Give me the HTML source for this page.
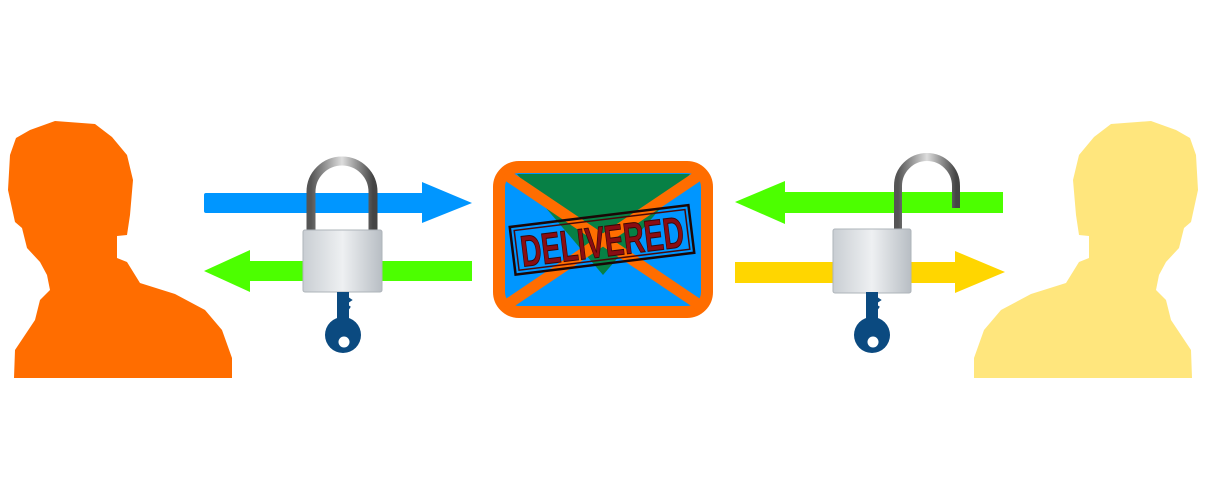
<!DOCTYPE html>
<html><head><style>html,body{margin:0;padding:0;background:#fff;width:1206px;height:500px;overflow:hidden}</style></head>
<body>
<svg width="1206" height="500" viewBox="0 0 1206 500" xmlns="http://www.w3.org/2000/svg">
<defs>
<linearGradient id="body" x1="0" y1="0" x2="1" y2="0">
<stop offset="0" stop-color="#c9ced3"/><stop offset="0.5" stop-color="#eef0f2"/><stop offset="1" stop-color="#b8bec4"/>
</linearGradient>
<linearGradient id="shk" x1="0" y1="0" x2="1" y2="0">
<stop offset="0" stop-color="#555"/><stop offset="0.5" stop-color="#ddd"/><stop offset="1" stop-color="#444"/>
</linearGradient>
<g id="person">
<path d="M30,130 L55,121 L95,124 L112,137 L127,155 L133,180 L130,215 L127,235 L117,236 L117,258 L127,262 L140,283 L175,294 L205,310 L222,330 L232,358 L232,378 L14,378 L15,350 L25,335 L35,320 L40,300 L50,290 L47,275 L40,262 L27,248 L22,228 L15,222 L8,190 L10,155 L16,138 Z"/>
</g>
<g id="key">
<rect x="-6" y="0" width="12" height="28" fill="#0b4a80"/>
<path d="M1,4 l6,4 l-6,4 l6,4" fill="none" stroke="#0b4a80" stroke-width="3"/>
<circle cx="0" cy="43" r="18" fill="#0b4a80"/>
<circle cx="1" cy="50" r="5.5" fill="#fff"/>
</g>
</defs>
<use href="#person" fill="#ff6d00"/>
<use href="#person" fill="#ffe67d" transform="translate(1206,0) scale(-1,1)"/>
<rect x="204" y="193" width="222" height="20" rx="2" fill="#0096ff"/>
<polygon points="422,182 472,203 422,223" fill="#0096ff"/>
<rect x="248" y="261" width="224" height="20" fill="#4cff00"/>
<polygon points="250,250 204,271 250,292" fill="#4cff00"/>
<rect x="782" y="192" width="221" height="21" fill="#4cff00"/>
<polygon points="785,181 735,202 785,224" fill="#4cff00"/>
<rect x="735" y="262" width="224" height="21" fill="#ffd600"/>
<polygon points="955,251 1005,272 955,293" fill="#ffd600"/>
<path d="M311,232 V192 A31,31 0 0 1 373,192 V232" fill="none" stroke="url(#shk)" stroke-width="9"/>
<rect x="303" y="230" width="79" height="62" rx="2" fill="url(#body)" stroke="#aeb4ba"/>
<use href="#key" transform="translate(343,292)"/>
<path d="M898,230 V186 A29,29 0 0 1 956,186 V208" fill="none" stroke="url(#shk)" stroke-width="8"/>
<rect x="833" y="229" width="78" height="64" rx="2" fill="url(#body)" stroke="#aeb4ba"/>
<use href="#key" transform="translate(872,292)"/>
<rect x="499" y="167" width="208" height="145" rx="20" fill="#0096ff" stroke="#ff6d00" stroke-width="12"/>
<polygon points="517,174 690,174 603,275" fill="#078045"/>
<line x1="505" y1="174" x2="701" y2="306" stroke="#ff6d00" stroke-width="11"/>
<line x1="701" y1="174" x2="505" y2="306" stroke="#ff6d00" stroke-width="11"/>
<g transform="rotate(-7 601 240)">
<rect x="512" y="216" width="180" height="48" fill="none" stroke="#1a0606" stroke-width="2.5"/>
<rect x="516" y="220" width="172" height="40" fill="none" stroke="#4a0808" stroke-width="1.5"/>
<text x="602" y="257" text-anchor="middle" font-family="Liberation Sans, sans-serif" font-weight="bold" font-size="44" fill="#8a0d12" stroke="#3a0606" stroke-width="1" textLength="164" lengthAdjust="spacingAndGlyphs">DELIVERED</text>
</g>
</svg>
</body></html>
